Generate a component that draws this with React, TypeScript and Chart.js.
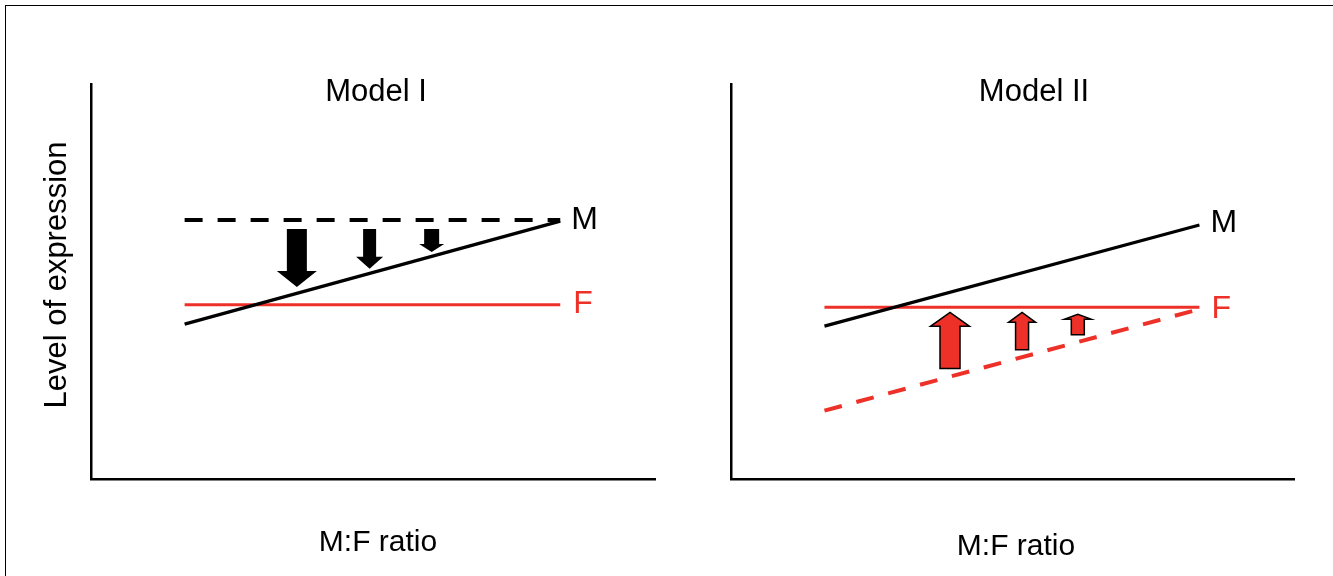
import React, { useEffect, useRef } from "react";
import { Chart, registerables } from "chart.js";

Chart.register(...registerables);

// ---------- data ----------
const ratioX = [1.66, 8.32];

// Model I
const m1Expected = [6.56, 6.56];
const m1Observed = [3.92, 6.53];
const f1Level = [4.41, 4.41];
const m1ArrowX = [3.65, 4.94, 6.04];
const m1ArrowFrom = [6.33, 6.33, 6.33];
const m1ArrowTo = [4.86, 5.32, 5.75];

// Model II
const m2Level = [3.87, 6.43];
const f2Level = [4.35, 4.35];
const f2Expected = [1.73, 4.3];
const m2ArrowX = [3.89, 5.17, 6.16];
const m2ArrowFrom = [2.8, 3.27, 3.65];
const m2ArrowTo = [4.22, 4.22, 4.17];

const panelTitles = ["Model I", "Model II"];
const xAxisTitle = "M:F ratio";
const yAxisTitle = "Level of expression";
const seriesLabels = ["M", "F"];

// ---------- styles ----------
const RED = "#EE3128";
const BLACK = "#000000";
const FONT = "'Liberation Sans', Arial, Helvetica, sans-serif";
const m1ArrowShaft = [20, 13, 15];
const m1ArrowHead = [40, 27, 25];
const m1ArrowHeadLen = [16, 12, 8];
const m2ArrowShaft = [20, 13, 13];
const m2ArrowHead = [39, 27, 27];
const m2ArrowHeadLen = [14, 10, 5];

const pts = (ys: number[]) => ratioX.map((x, i) => ({ x, y: ys[i] }));

const overlayPlugin = {
  id: "overlay",
  afterDatasetsDraw(chart: any, _args: any, opts: any) {
    const ctx = chart.ctx as CanvasRenderingContext2D;
    const xs = chart.scales.x;
    const ys = chart.scales.y;
    ctx.save();
    // arrows
    const a = opts.arrows;
    if (a) {
      for (let i = 0; i < a.x.length; i++) {
        const px = xs.getPixelForValue(a.x[i]);
        const p0 = ys.getPixelForValue(a.from[i]);
        const p1 = ys.getPixelForValue(a.to[i]);
        const dir = Math.sign(p1 - p0);
        const hb = p1 - dir * a.headLen[i];
        const sw = a.shaft[i] / 2;
        const hw = a.head[i] / 2;
        ctx.beginPath();
        ctx.moveTo(px - sw, p0);
        ctx.lineTo(px - sw, hb);
        ctx.lineTo(px - hw, hb);
        ctx.lineTo(px, p1);
        ctx.lineTo(px + hw, hb);
        ctx.lineTo(px + sw, hb);
        ctx.lineTo(px + sw, p0);
        ctx.closePath();
        ctx.fillStyle = a.fill;
        ctx.fill();
        if (a.outline) {
          ctx.lineWidth = a.outlineWidth;
          ctx.strokeStyle = a.outline;
          ctx.lineJoin = "miter";
          ctx.stroke();
        }
      }
    }
    // end-of-line labels
    ctx.textAlign = "left";
    ctx.textBaseline = "alphabetic";
    for (const l of opts.endLabels || []) {
      const meta = chart.getDatasetMeta(l.dataset);
      const last = meta.data[meta.data.length - 1];
      ctx.font = `${l.size}px ${FONT}`;
      ctx.fillStyle = l.color;
      ctx.fillText(l.text, last.x + l.dx, last.y + l.dy);
    }
    // free texts
    for (const t of opts.texts || []) {
      ctx.save();
      ctx.translate(t.x, t.y);
      if (t.rotate) ctx.rotate(t.rotate);
      ctx.font = `${t.size}px ${FONT}`;
      ctx.fillStyle = BLACK;
      ctx.textAlign = "center";
      ctx.textBaseline = "alphabetic";
      ctx.fillText(t.text, 0, 0);
      ctx.restore();
    }
    ctx.restore();
  },
};

const axisOpts = {
  type: "linear" as const,
  min: 0,
  max: 10,
  grid: { display: false, drawTicks: false, tickLength: 0 },
  ticks: { display: false, padding: 0 },
  border: { display: true, color: BLACK, width: 2.5 },
};

function makeConfig(datasets: any[], padding: any, overlay: any) {
  return {
    type: "line" as const,
    data: { datasets },
    options: {
      responsive: false,
      animation: false as const,
      layout: { padding },
      elements: { point: { radius: 0 }, line: { tension: 0 } },
      plugins: {
        legend: { display: false },
        tooltip: { enabled: false },
        overlay,
      },
      scales: { x: { ...axisOpts }, y: { ...axisOpts } },
    },
    plugins: [overlayPlugin],
  };
}

function lineDs(ys: number[], color: string, width: number, dash: number[] = []) {
  return {
    data: pts(ys),
    borderColor: color,
    borderWidth: width,
    borderDash: dash,
    borderCapStyle: "butt",
    pointRadius: 0,
    fill: false,
    clip: false,
  };
}

function Panel({ config, width, left }: { config: any; width: number; left: number }) {
  const ref = useRef<HTMLCanvasElement | null>(null);
  useEffect(() => {
    if (!ref.current) return;
    const chart = new Chart(ref.current, config);
    return () => chart.destroy();
  }, [config]);
  return (
    <canvas
      ref={ref}
      width={width}
      height={576}
      style={{ position: "absolute", left, top: 0, width, height: 576, display: "block" }}
    />
  );
}

const leftConfig = makeConfig(
  [
    lineDs(m1Expected, BLACK, 4, [18, 15]),
    lineDs(m1Observed, BLACK, 3.3),
    lineDs(f1Level, RED, 3),
  ],
  { left: 91, right: 45, top: 84, bottom: 97 },
  {
    arrows: {
      x: m1ArrowX,
      from: m1ArrowFrom,
      to: m1ArrowTo,
      shaft: m1ArrowShaft,
      head: m1ArrowHead,
      headLen: m1ArrowHeadLen,
      fill: BLACK,
      outline: null,
      outlineWidth: 0,
    },
    endLabels: [
      { dataset: 0, text: seriesLabels[0], color: BLACK, dx: 11, dy: 9, size: 32 },
      { dataset: 2, text: seriesLabels[1], color: RED, dx: 13, dy: 8, size: 32 },
    ],
    texts: [
      { text: panelTitles[0], x: 376, y: 101, size: 31 },
      { text: xAxisTitle, x: 378, y: 551, size: 30 },
      { text: yAxisTitle, x: 66, y: 275, size: 31, rotate: -Math.PI / 2 },
    ],
  }
);

const rightConfig = makeConfig(
  [
    lineDs(m2Level, BLACK, 3.3),
    lineDs(f2Level, RED, 3),
    lineDs(f2Expected, RED, 4, [18, 15]),
  ],
  { left: 31, right: 39, top: 84, bottom: 97 },
  {
    arrows: {
      x: m2ArrowX,
      from: m2ArrowFrom,
      to: m2ArrowTo,
      shaft: m2ArrowShaft,
      head: m2ArrowHead,
      headLen: m2ArrowHeadLen,
      fill: RED,
      outline: BLACK,
      outlineWidth: 1.5,
    },
    endLabels: [
      { dataset: 0, text: seriesLabels[0], color: BLACK, dx: 11, dy: 7, size: 32 },
      { dataset: 1, text: seriesLabels[1], color: RED, dx: 12, dy: 11, size: 32 },
    ],
    texts: [
      { text: panelTitles[1], x: 334, y: 101, size: 31 },
      { text: xAxisTitle, x: 316, y: 555, size: 30 },
    ],
  }
);

export default function App() {
  return (
    <div
      style={{
        position: "absolute",
        left: 0,
        top: 0,
        width: 1333,
        height: 576,
        overflow: "hidden",
        background: "#fff",
      }}
    >
      <div
        style={{
          position: "absolute",
          left: 5,
          top: 5,
          width: 1400,
          height: 700,
          borderTop: "1px solid #000",
          borderLeft: "1px solid #000",
        }}
      />
      <Panel config={leftConfig} width={700} left={0} />
      <Panel config={rightConfig} width={633} left={700} />
    </div>
  );
}
